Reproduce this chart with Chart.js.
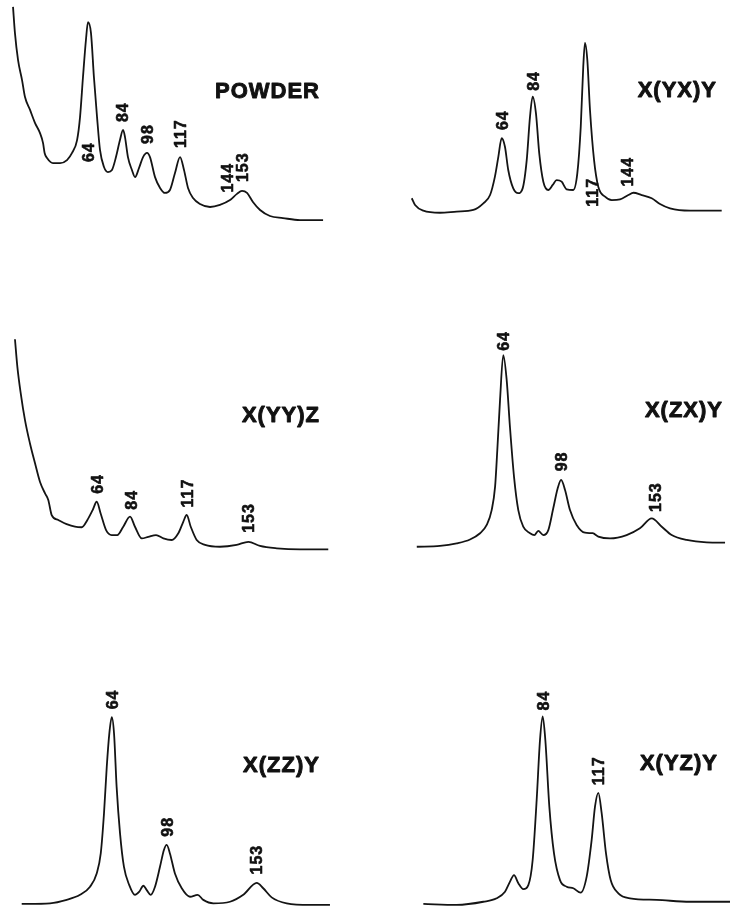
<!DOCTYPE html>
<html>
<head>
<meta charset="utf-8">
<script src="https://cdn.jsdelivr.net/npm/chart.js@4.4.1/dist/chart.umd.min.js"></script>
<style>
  html, body { margin: 0; padding: 0; background: #fff; }
  #page { position: relative; width: 730px; height: 914px; overflow: hidden; }
  #page canvas { position: absolute; }
</style>
</head>
<body>
<div id="page"></div>
<script>
// Raman shift (cm-1) and intensity (arb. units)
const powderX = [20.8,21.9,23.7,26.0,27.7,30.6,33.5,36.3,38.1,39.0,40.4,43.8,47.9,51.9,54.8,57.7,59.4,61.1,62.8,64.0,65.7,67.4,69.2,70.9,73.2,75.5,77.8,80.1,82.4,84.2,85.3,87.0,89.3,91.1,93.4,95.7,98.0,99.7,102.6,105.5,108.3,111.2,114.1,117.0,119.3,121.6,124.5,128.5,134.3,140.0,145.8,149.8,152.7,155.6,159.0,163.1,168.8,176.3,186.1,199.4];
const powderY = [97,85.7,73.9,65.2,57.8,52.2,46.5,42.2,37.8,33.5,31.3,29.1,29.1,30.4,33.5,39.1,49.1,66.5,82.6,90.4,85.7,66.5,49.1,34.8,27.4,25.2,26.1,31.7,39.1,43.5,40.4,31.7,26.1,23.0,27.0,31.7,33.5,31.7,23.0,18.3,16.1,17.4,24.8,31.7,26.1,18.3,13.9,11.3,10.0,10.9,13.0,15.7,17.0,16.1,12.2,8.7,6.1,5.2,4.3,4.3];
const powderPeaks = [64, 84, 98, 117, 144, 153];

const yxX = [6.4,8.5,13.8,24.4,35.1,45.7,52.1,56.4,59.5,61.7,63.8,65.9,68.0,71.2,74.4,77.2,79.8,81.9,83.6,85.7,87.8,90.4,93.6,96.4,98.9,102.1,105.3,109.5,112.1,114.3,115.9,117.0,118.5,120.2,122.8,125.5,129.8,134.1,139.4,144.7,147.9,153.2,159.6,164.9,171.3,184.1,204.3];
const yxY = [13.8,10.9,8.4,7.5,8.0,8.7,11.6,15.2,23.2,31.9,39.9,36.2,26.1,18.1,16.0,18.1,30.4,49.3,58.0,50.7,33.3,21.0,17.4,19.6,21.7,21.0,17.7,17.4,24.6,44.9,71.0,81.4,73.9,52.2,30.4,18.8,14.5,13.0,13.3,15.2,16.2,15.2,13.8,11.3,9.4,8.4,8.4];
const yxPeaks = [64, 84, 117, 144];

const yyX = [15.7,17.1,19.1,21.6,24.5,27.5,30.4,33.4,35.3,37.3,41.2,46.1,51.0,55.0,58.3,61.4,63.8,66.1,69.3,72.6,75.9,79.4,83.4,86.3,90.3,94.1,98.7,103.0,107.9,111.8,114.7,116.7,119.1,122.6,127.5,136.3,146.1,153.0,159.8,169.7,183.4,200.0];
const yyY = [84.9,74.4,64.1,53.8,44.9,37.2,30.1,25.6,23.1,17.3,15.4,13.8,12.8,12.6,15.4,19.2,22.4,17.9,11.5,9.6,9.6,12.8,16.7,12.8,8.3,8.9,9.6,8.3,7.7,10.3,14.7,17.3,12.8,7.7,5.8,5.1,5.8,7.0,5.4,4.5,4.1,4.1];
const yyPeaks = [64, 84, 117, 153];

const zxX = [13.5,27.1,36.9,44.7,50.6,54.5,57.4,59.4,60.7,62.3,64.2,66.2,68.1,70.5,73.0,75.9,79.9,82.4,84.7,87.7,90.6,93.5,96.1,98.1,100.4,103.3,107.2,112.1,116.6,119.9,126.8,136.5,144.3,151.2,157.1,162.9,171.7,183.4,194.2];
const zxY = [5.1,5.4,6.4,7.9,10.3,13.5,19.2,28.2,42.3,61.5,78.8,69.2,51.3,32.0,19.2,12.8,10.3,9.6,11.2,9.6,11.5,19.9,27.6,30.8,26.9,19.2,13.5,10.5,10.3,9.0,8.3,9.6,12.2,16.0,12.8,9.6,7.7,6.8,6.7];
const zxPeaks = [64, 98, 153];

const zzX = [8.3,25.8,36.1,44.3,50.5,54.6,57.1,59.1,60.8,62.4,63.9,65.3,66.9,69.0,71.4,74.7,78.2,80.9,83.4,85.5,87.9,90.6,93.7,96.1,97.8,99.8,102.9,107.1,112.2,116.9,120.4,126.6,136.9,145.1,153.4,157.4,162.6,171.9,186.3,198.6];
const zzY = [3.2,3.4,4.5,6.1,8.7,12.9,19.3,32.0,46.8,57.5,62.7,57.5,40.5,25.7,15.1,9.2,6.1,7.1,9.0,7.6,6.1,8.7,15.1,20.4,22.0,19.3,12.9,8.2,5.5,6.1,4.5,3.4,3.9,6.1,9.9,8.2,5.3,3.4,2.9,2.9];
const zzPeaks = [64, 98, 153];

const yzX = [12.2,32.2,48.2,56.2,61.2,64.2,66.6,69.2,72.2,75.2,77.8,80.2,82.2,83.8,85.4,87.8,90.6,94.2,98.2,102.2,106.6,110.2,113.2,115.2,117.2,119.2,121.8,124.6,129.2,136.2,152.2,172.2,196.2];
const yzY = [3.2,2.9,3.9,5.0,7.1,10.3,12.4,9.8,7.9,9.2,17.2,36.3,55.4,62.9,55.4,34.2,19.3,10.8,8.7,8.2,6.8,11.9,23.6,34.2,38.6,32.1,19.3,10.8,6.6,5.0,4.5,3.9,3.9];
const yzPeaks = [84, 117];

const panels = [
  { title: 'POWDER', xs: powderX, ys: powderY, peaks: powderPeaks,
    box: [0, 0, 340, 230], xRange: [13.3, 209.15], titleAt: [320, 98],
    nudge: { 64: [0, 149] } },
  { title: 'X(YX)Y', xs: yxX, ys: yxY, peaks: yxPeaks,
    box: [390, 0, 340, 230], xRange: [-7.5, 209.6], titleAt: [327, 97],
    nudge: { 117: [7, 173] } },
  { title: 'X(YY)Z', xs: yyX, ys: yyY, peaks: yyPeaks,
    box: [0, 300, 340, 260], xRange: [6.9, 206.9], titleAt: [320, 122], nudge: {} },
  { title: 'X(ZX)Y', xs: zxX, ys: zxY, peaks: zxPeaks,
    box: [390, 300, 340, 260], xRange: [-2.2, 197.1], titleAt: [333, 117], nudge: {} },
  { title: 'X(ZZ)Y', xs: zzX, ys: zzY, peaks: zzPeaks,
    box: [0, 600, 340, 314], xRange: [-5.1, 204.8], titleAt: [320, 172], nudge: {} },
  { title: 'X(YZ)Y', xs: yzX, ys: yzY, peaks: yzPeaks,
    box: [390, 600, 340, 314], xRange: [-7.8, 196.2], titleAt: [328, 170], nudge: {} }
];

const FONT = '"Liberation Sans", Arial, Helvetica, sans-serif';

// value of the trace at a given shift (straight-line between read points)
function traceAt(xs, ys, v) {
  for (let i = 1; i < xs.length; i++) {
    if (xs[i] >= v) {
      const t = (v - xs[i - 1]) / (xs[i] - xs[i - 1]);
      return ys[i - 1] + t * (ys[i] - ys[i - 1]);
    }
  }
  return ys[ys.length - 1];
}

// heavy print look: fill plus a thin stroke of the same colour
function heavyText(ctx, s, x, y, w) {
  ctx.fillText(s, x, y);
  ctx.lineWidth = w;
  ctx.strokeText(s, x, y);
}

const textPlugin = {
  id: 'spectrumText',
  afterDraw(chart, args, opts) {
    const p = opts.panel;
    const ctx = chart.ctx;
    const xs = chart.scales.x, ys = chart.scales.y;
    ctx.save();
    ctx.fillStyle = '#111';
    ctx.strokeStyle = '#111';
    ctx.lineJoin = 'round';
    ctx.font = 'bold 22px ' + FONT;
    ctx.letterSpacing = '1px';
    ctx.textAlign = 'right';
    ctx.textBaseline = 'alphabetic';
    heavyText(ctx, p.title, p.titleAt[0], p.titleAt[1], 0.9);

    ctx.font = 'bold 16px ' + FONT;
    ctx.textAlign = 'left';
    p.peaks.forEach(v => {
      const n = p.nudge[v] || [0, 0];
      const px = xs.getPixelForValue(v) + n[0];
      const py = ys.getPixelForValue(traceAt(p.xs, p.ys, v)) - 9 + n[1];
      ctx.save();
      ctx.translate(px, py);
      ctx.rotate(-Math.PI / 2);
      heavyText(ctx, String(v), 0, 16 * 0.36, 0.6);
      ctx.restore();
    });
    ctx.restore();
  }
};

const page = document.getElementById('page');
panels.forEach(p => {
  const c = document.createElement('canvas');
  c.width = p.box[2];
  c.height = p.box[3];
  c.style.left = p.box[0] + 'px';
  c.style.top = p.box[1] + 'px';
  c.style.width = p.box[2] + 'px';
  c.style.height = p.box[3] + 'px';
  page.appendChild(c);

  new Chart(c.getContext('2d'), {
    type: 'line',
    data: {
      datasets: [{
        data: p.xs.map((x, i) => ({ x: x, y: p.ys[i] })),
        borderColor: '#141414',
        borderWidth: 1.8,
        pointRadius: 0,
        cubicInterpolationMode: 'monotone',
        fill: false
      }]
    },
    options: {
      responsive: false,
      animation: false,
      events: [],
      layout: { padding: 0 },
      plugins: {
        legend: { display: false },
        tooltip: { enabled: false },
        spectrumText: { panel: p }
      },
      scales: {
        x: { type: 'linear', min: p.xRange[0], max: p.xRange[1], display: false },
        y: { min: 0, max: 100, display: false }
      }
    },
    plugins: [textPlugin]
  });
});
</script>
</body>
</html>
